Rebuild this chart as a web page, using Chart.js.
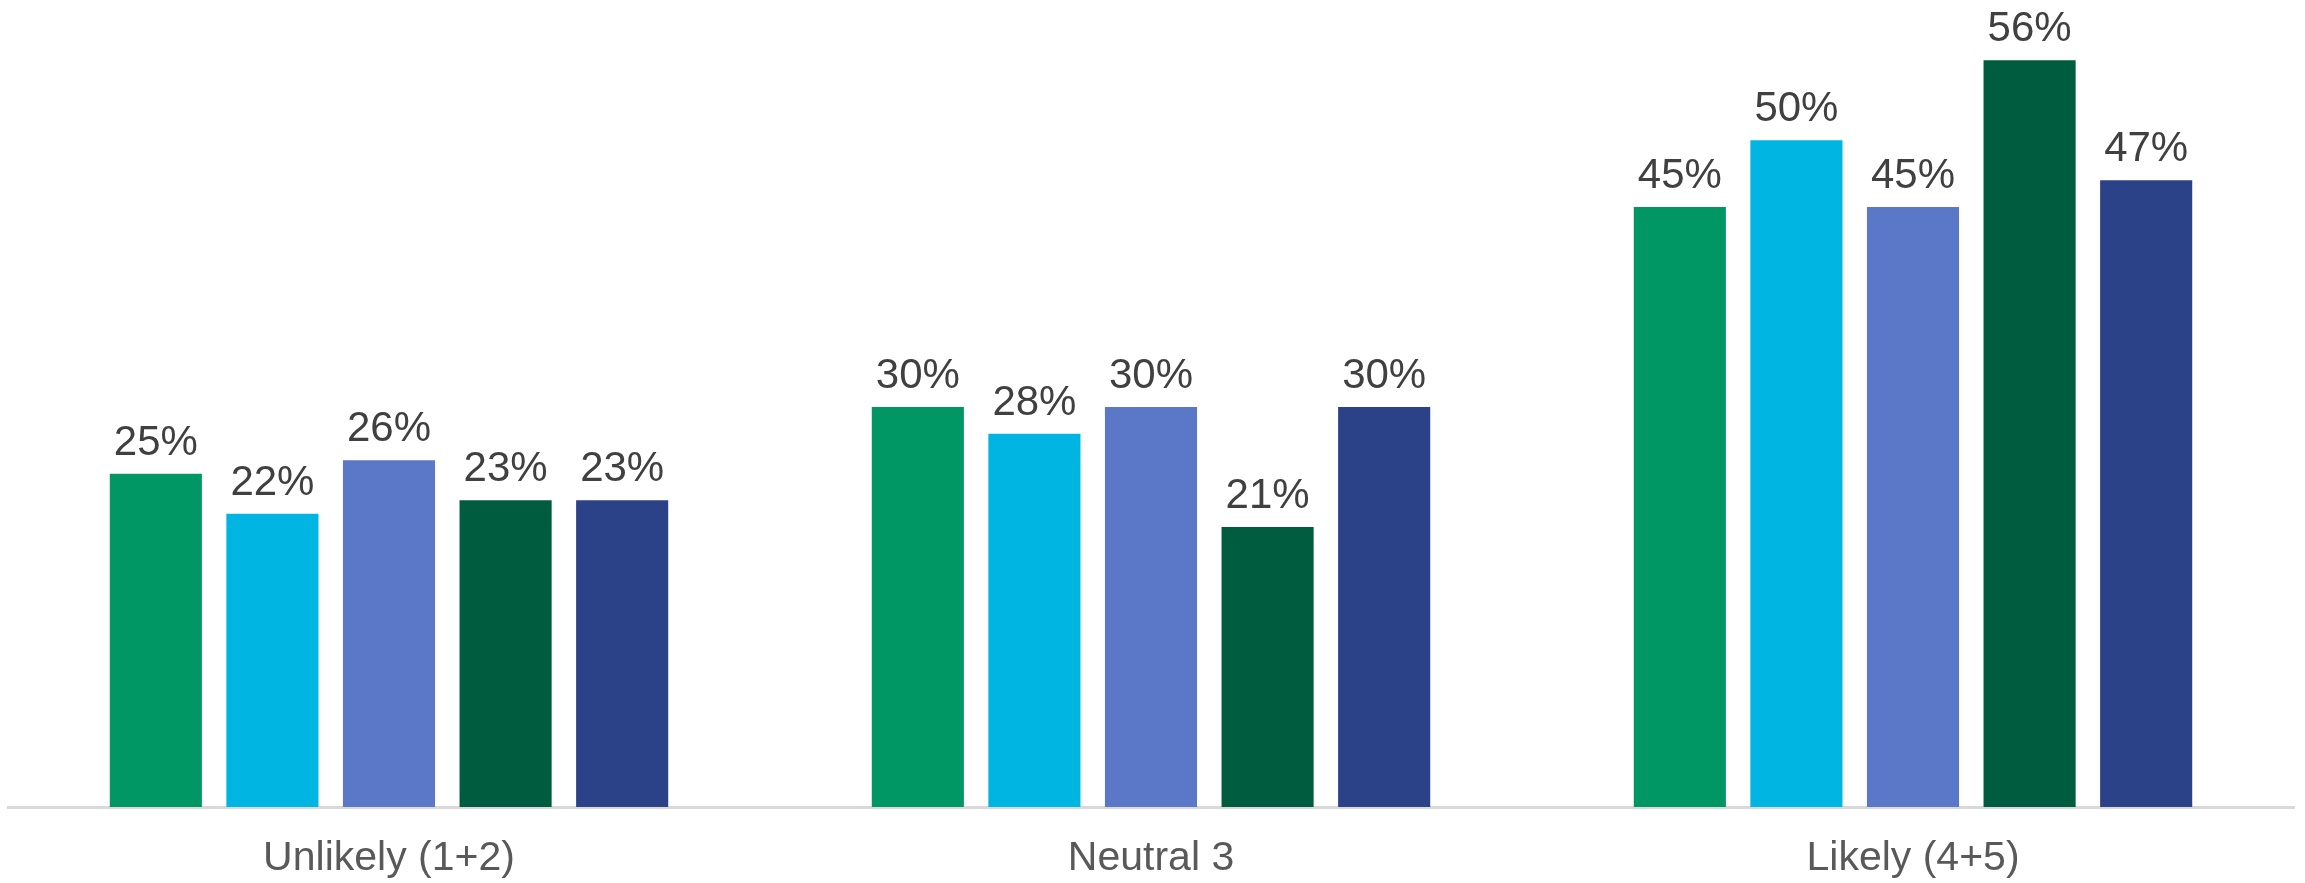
<!DOCTYPE html>
<html>
<head>
<meta charset="utf-8">
<title>Likelihood by group</title>
<script src="https://cdn.jsdelivr.net/npm/chart.js@4/dist/chart.umd.min.js"></script>
<style>
  html, body { margin: 0; padding: 0; background: #ffffff; }
  #wrap { width: 2305px; height: 883px; }
</style>
</head>
<body>
<div id="wrap"><canvas id="chart-cont" width="2305" height="883"></canvas></div>
<script>
// categories and the five series (percent)
var categories = ["Unlikely (1+2)", "Neutral 3", "Likely (4+5)"];
var series1 = [25, 30, 45];
var series2 = [22, 28, 50];
var series3 = [26, 30, 45];
var series4 = [23, 21, 56];
var series5 = [23, 30, 47];
var seriesColors = ['#009764', '#00b5e2', '#5b77c8', '#005c3e', '#2b4188'];

// draws "NN%" above every bar
var valueLabels = {
    id: 'valueLabels',
    afterDatasetsDraw: function (chart) {
        var ctx = chart.ctx;
        ctx.save();
        ctx.font = '42px "Liberation Sans", Arial, sans-serif';
        ctx.fillStyle = '#404040';
        ctx.textAlign = 'center';
        ctx.textBaseline = 'alphabetic';
        chart.data.datasets.forEach(function (ds, i) {
            var meta = chart.getDatasetMeta(i);
            meta.data.forEach(function (bar, j) {
                ctx.fillText(ds.data[j] + '%', bar.x, bar.y - 19);
            });
        });
        ctx.restore();
    }
};

var canvasElement = document.getElementById("chart-cont").getContext('2d');

var config = {
    type: "bar",
    data: {
        labels: categories,
        datasets: [series1, series2, series3, series4, series5].map(function (d, i) {
            return {
                label: 'Series ' + (i + 1),
                data: d,
                backgroundColor: seriesColors[i],
                borderWidth: 0,
                categoryPercentage: 0.765,
                barPercentage: 0.79
            };
        })
    },
    plugins: [valueLabels],
    options: {
        responsive: false,
        animation: false,
        layout: {
            padding: { top: 7, left: 8, right: 11, bottom: 0 }
        },
        scales: {
            x: {
                grid: { display: false, drawTicks: false },
                border: { display: true, color: '#d9d9d9', width: 3 },
                ticks: {
                    color: '#595959',
                    padding: 27,
                    font: { family: '"Liberation Sans", Arial, sans-serif', size: 41 }
                },
                // keep the label band tight under the axis line
                afterFit: function (scale) { scale.height = 76; }
            },
            y: {
                display: false,
                min: 0,
                max: 60
            }
        },
        plugins: {
            legend: { display: false },
            tooltip: { enabled: false }
        }
    }
};

var chart = new Chart(canvasElement, config);
</script>
</body>
</html>
